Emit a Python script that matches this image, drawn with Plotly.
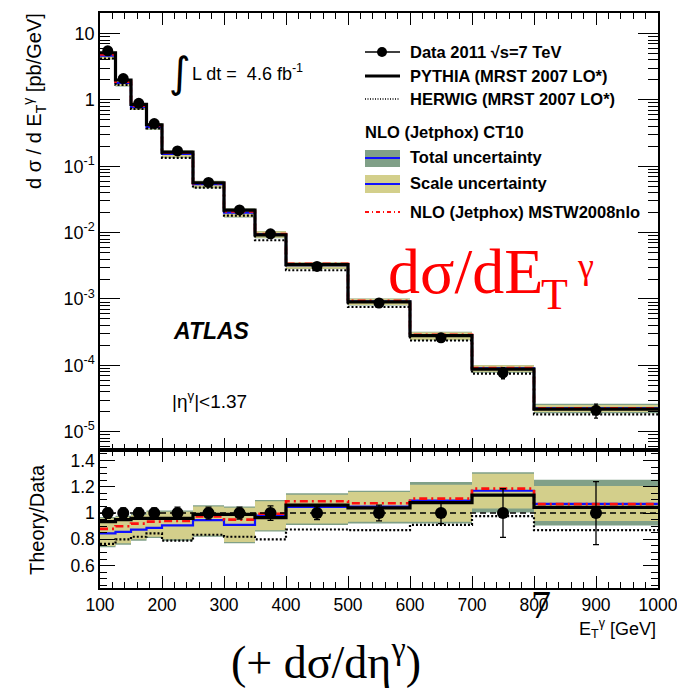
import plotly.graph_objects as go
import numpy as np

# ---------------- data ----------------
edges = [100, 125, 150, 175, 200, 250, 300, 350, 400, 500, 600, 700, 800, 1000]
centers = [112.5, 137.5, 162.5, 187.5, 225, 275, 325, 375, 450, 550, 650, 750, 900]
data = [5.5, 2.1, 0.89, 0.44, 0.17, 0.057, 0.022, 0.0096, 0.0031, 0.00087, 0.00026, 7.7e-5, 2.1e-5]
data_err_rel = [0.04, 0.04, 0.04, 0.04, 0.045, 0.045, 0.045, 0.055, 0.05, 0.06, 0.08, 0.185, 0.24]

r_pythia = [0.935, 0.95, 0.96, 0.96, 0.96, 0.99, 0.99, 0.965, 1.06, 1.04, 1.08, 1.136, 1.043]
r_herwig = [0.765, 0.80, 0.82, 0.845, 0.79, 0.835, 0.82, 0.80, 0.875, 0.87, 0.91, 0.977, 0.87]
r_ct10 = [0.845, 0.857, 0.874, 0.887, 0.907, 0.947, 0.91, 0.98, 1.048, 1.05, 1.095, 1.17, 1.07]
r_mstw = [0.88, 0.90, 0.92, 0.935, 0.94, 0.975, 0.95, 0.995, 1.09, 1.075, 1.11, 1.186, 1.068]
scale_lo = [0.75, 0.77, 0.80, 0.82, 0.80, 0.83, 0.78, 0.87, 0.92, 0.935, 0.935, 1.035, 0.94]
scale_hi = [0.96, 0.97, 0.985, 1.01, 1.01, 1.05, 1.04, 1.09, 1.14, 1.16, 1.216, 1.30, 1.206]
tot_lo = [0.74, 0.76, 0.79, 0.81, 0.79, 0.82, 0.77, 0.86, 0.91, 0.92, 0.92, 1.005, 0.905]
tot_hi = [0.97, 0.98, 0.995, 1.02, 1.02, 1.06, 1.05, 1.10, 1.15, 1.17, 1.236, 1.31, 1.254]

top_ticks = [10, 1, 0.1, 0.01, 0.001, 1e-4, 1e-5]
top_ticktext = ["10", "1", "10<sup>-1</sup>", "10<sup>-2</sup>", "10<sup>-3</sup>", "10<sup>-4</sup>", "10<sup>-5</sup>"]
ratio_ticks = [0.6, 0.8, 1, 1.2, 1.4]
x_ticks = [100, 200, 300, 400, 500, 600, 700, 800, 900, 1000]

# ---------------- styling ----------------
W, H = 677, 689
ML, MR, MT, MB = 100, 19, 13, 101
PW, PH = W - ML - MR, H - MT - MB


def px(xp):
    return (xp - ML) / PW


def py(yp):
    return (H - MB - yp) / PH


SPLIT = py(450)
C_TOT = "#80a088"
C_SCALE = "#d3cf8b"
C_BLUE = "#1010ff"
C_RED = "#ff1010"
HELV = "Liberation Sans, Arial, sans-serif"
TIMES = "Liberation Serif, Times New Roman, serif"

d = np.array(data)


def step(vals):
    v = list(vals)
    return v + [v[-1]]


fig = go.Figure()


def add_panel(scale, xa, ya):
    s = np.array(scale)
    fig.add_trace(go.Scatter(x=edges, y=step(np.array(tot_lo) * s), mode="lines", line=dict(width=0, shape="hv"),
                             xaxis=xa, yaxis=ya, showlegend=False, hoverinfo="skip"))
    fig.add_trace(go.Scatter(x=edges, y=step(np.array(tot_hi) * s), mode="lines", line=dict(width=0, shape="hv"),
                             fill="tonexty", fillcolor=C_TOT, xaxis=xa, yaxis=ya, showlegend=False, hoverinfo="skip"))
    fig.add_trace(go.Scatter(x=edges, y=step(np.array(scale_lo) * s), mode="lines", line=dict(width=0, shape="hv"),
                             xaxis=xa, yaxis=ya, showlegend=False, hoverinfo="skip"))
    fig.add_trace(go.Scatter(x=edges, y=step(np.array(scale_hi) * s), mode="lines", line=dict(width=0, shape="hv"),
                             fill="tonexty", fillcolor=C_SCALE, xaxis=xa, yaxis=ya, showlegend=False, hoverinfo="skip"))
    fig.add_trace(go.Scatter(x=edges, y=step(np.array(r_ct10) * s), mode="lines",
                             line=dict(color=C_BLUE, width=2.2, shape="hv"), xaxis=xa, yaxis=ya, showlegend=False))
    fig.add_trace(go.Scatter(x=edges, y=step(np.array(r_mstw) * s), mode="lines",
                             line=dict(color=C_RED, width=2.6, shape="hv", dash="8px,4px,2px,4px"),
                             xaxis=xa, yaxis=ya, showlegend=False))
    fig.add_trace(go.Scatter(x=edges, y=step(np.array(r_herwig) * s), mode="lines",
                             line=dict(color="black", width=2.2, shape="hv", dash="2px,2px"),
                             xaxis=xa, yaxis=ya, showlegend=False))
    fig.add_trace(go.Scatter(x=edges, y=step(np.array(r_pythia) * s), mode="lines",
                             line=dict(color="black", width=3.2, shape="hv"),
                             xaxis=xa, yaxis=ya, showlegend=False))


# top panel: theory = ratio * data
add_panel(d, "x", "y")
fig.add_trace(go.Scatter(x=centers, y=d, mode="markers",
                         marker=dict(color="black", size=11),
                         error_y=dict(type="data", array=d * np.array(data_err_rel), color="black", thickness=1.3, width=2),
                         xaxis="x", yaxis="y", showlegend=False))

# ratio panel
ones = np.ones(len(data))
fig.add_shape(type="line", xref="x2", yref="y2", x0=edges[0], x1=edges[-1], y0=1, y1=1,
              line=dict(color="black", width=1.5, dash="6px,4px"), layer="above")
add_panel(ones, "x2", "y2")
fig.add_trace(go.Scatter(x=centers, y=ones, mode="markers",
                         marker=dict(color="black", size=12),
                         error_y=dict(type="data", array=data_err_rel, color="black", thickness=1.3, width=3),
                         xaxis="x2", yaxis="y2", showlegend=False))

minor_log = [m * 10.0 ** k for k in range(-6, 2) for m in range(2, 10)]

axis_common = dict(showline=True, linecolor="black", linewidth=1.5, mirror="allticks", automargin=False,
                   ticks="inside", tickcolor="black", tickwidth=1.3, showgrid=False, zeroline=False,
                   ticklabeloverflow="allow")

fig.update_layout(
    width=W, height=H,
    margin=dict(l=ML, r=MR, t=MT, b=MB, autoexpand=False),
    paper_bgcolor="white", plot_bgcolor="white",
    xaxis=dict(**axis_common, domain=[0, 1], anchor="y", range=[100, 1000], tickvals=x_ticks,
               showticklabels=False, ticklen=12,
               minor=dict(ticks="inside", ticklen=6, dtick=20, tick0=100, tickcolor="black", tickwidth=1.2)),
    yaxis=dict(**axis_common, domain=[SPLIT, 1], anchor="x", type="log", range=[-5.276, 1.31],
               tickvals=top_ticks, ticktext=top_ticktext, ticklen=20,
               tickfont=dict(family=HELV, size=18, color="black"),
               minor=dict(ticks="inside", ticklen=10, tickvals=minor_log, tickcolor="black", tickwidth=1.2)),
    xaxis2=dict(**axis_common, domain=[0, 1], anchor="y2", range=[100, 1000], tickvals=x_ticks,
                ticklen=12, matches="x",
                tickfont=dict(family=HELV, size=17.5, color="black"),
                minor=dict(ticks="inside", ticklen=6, dtick=20, tick0=100, tickcolor="black", tickwidth=1.2)),
    yaxis2=dict(**axis_common, domain=[0, SPLIT], anchor="x2", range=[0.43, 1.48],
                tickvals=ratio_ticks, ticktext=["0.6", "0.8", "1", "1.2", "1.4"], ticklen=15,
                tickfont=dict(family=HELV, size=17.5, color="black"),
                minor=dict(ticks="inside", ticklen=7, dtick=0.05, tick0=0.4, tickcolor="black", tickwidth=1.2)),
)

ann = []


def text(xp, yp, s, size, family=HELV, color="black", xanchor="left", yanchor="middle", angle=0):
    ann.append(dict(x=px(xp), y=py(yp), xref="paper", yref="paper", text=s, showarrow=False,
                    font=dict(family=family, size=size, color=color), xanchor=xanchor, yanchor=yanchor,
                    textangle=angle))


# axis titles
text(34, 101, "d σ / d E<sub>T</sub><sup>γ</sup> [pb/GeV]", 20, xanchor="center", angle=-90)
text(37, 520, "Theory/Data", 20, xanchor="center", angle=-90)
text(658, 628, "E<sub>T</sub><sup>γ</sup> [GeV]", 18, xanchor="right")

# plot labels
text(167, 72, "∫", 42, family="DejaVu Sans")
text(190, 73, "L dt =  4.6 fb<sup>-1</sup>", 18)
text(171, 331, "<b><i>ATLAS</i></b>", 23)
text(170, 400, "|η<sup>γ</sup>|<1.37", 19)

# big red / black overlay texts
text(386, 271, "dσ/dE", 64, family=TIMES, color="#ff0000")
text(539, 294, "T", 44, family=TIMES, color="#ff0000")
text(575, 266, "γ", 36, family=TIMES, color="#ff0000")
text(541, 604, "7", 40, family=TIMES, xanchor="center")
text(326, 659, "(+ dσ/dη<sup>γ</sup>)", 46, family=TIMES, xanchor="center")

# legend
LX0, LX1, TX = 365, 400, 408
LF = 16.5
shapes = []
shapes.append(dict(type="line", xref="paper", yref="paper", x0=px(LX0), x1=px(LX1), y0=py(52), y1=py(52),
                   line=dict(color="black", width=1.3)))
shapes.append(dict(type="circle", xref="paper", yref="paper", x0=px(382 - 5), x1=px(382 + 5), y0=py(52 - 5),
                   y1=py(52 + 5), fillcolor="black", line=dict(color="black", width=0)))
text(TX, 52, "<b>Data 2011 √s=7 TeV</b>", LF)
shapes.append(dict(type="line", xref="paper", yref="paper", x0=px(LX0), x1=px(LX1), y0=py(76), y1=py(76),
                   line=dict(color="black", width=3)))
text(TX, 76, "<b>PYTHIA (MRST 2007 LO*)</b>", LF)
shapes.append(dict(type="line", xref="paper", yref="paper", x0=px(LX0), x1=px(LX1), y0=py(99), y1=py(99),
                   line=dict(color="black", width=1.5, dash="1px,1.5px")))
text(TX, 99, "<b>HERWIG (MRST 2007 LO*)</b>", LF)
text(363, 132, "<b>NLO (Jetphox) CT10</b>", LF)
shapes.append(dict(type="rect", xref="paper", yref="paper", x0=px(LX0), x1=px(LX1), y0=py(167), y1=py(150),
                   fillcolor=C_TOT, line=dict(width=0)))
shapes.append(dict(type="line", xref="paper", yref="paper", x0=px(LX0), x1=px(LX1), y0=py(158), y1=py(158),
                   line=dict(color=C_BLUE, width=2)))
text(TX, 157, "<b>Total uncertainty</b>", LF)
shapes.append(dict(type="rect", xref="paper", yref="paper", x0=px(LX0), x1=px(LX1), y0=py(193), y1=py(175),
                   fillcolor=C_SCALE, line=dict(width=0)))
shapes.append(dict(type="line", xref="paper", yref="paper", x0=px(LX0), x1=px(LX1), y0=py(184), y1=py(184),
                   line=dict(color=C_BLUE, width=2)))
text(TX, 183, "<b>Scale uncertainty</b>", LF)
shapes.append(dict(type="line", xref="paper", yref="paper", x0=px(LX0), x1=px(LX1), y0=py(212), y1=py(212),
                   line=dict(color=C_RED, width=2, dash="4px,3px,1px,3px")))
text(TX, 212, "<b>NLO (Jetphox) MSTW2008nlo</b>", LF)

fig.update_layout(annotations=ann)
for s in shapes:
    fig.add_shape(**s)

fig.write_html("out.html")
